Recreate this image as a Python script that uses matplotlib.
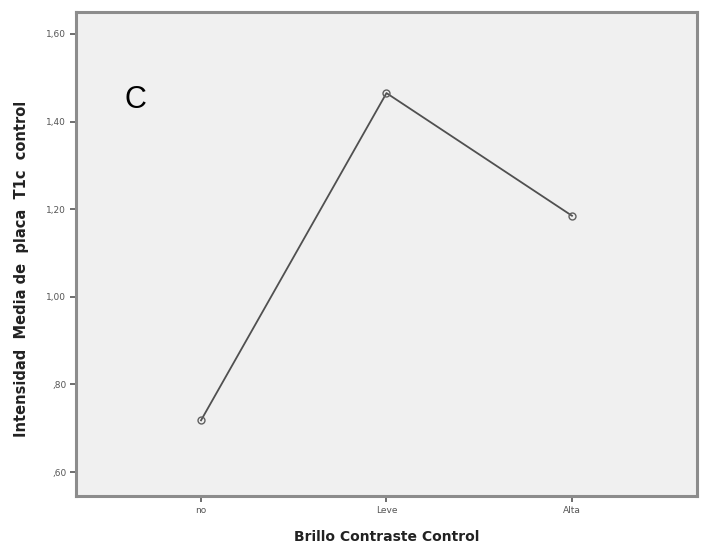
import matplotlib
matplotlib.use("Agg")
import matplotlib.pyplot as plt
from matplotlib.ticker import FuncFormatter

# data
categories = ["no", "Leve", "Alta"]
means = [0.718, 1.465, 1.185]
y_ticks = [0.60, 0.80, 1.00, 1.20, 1.40, 1.60]


def spss_fmt(v, pos):
    s = f"{v:.2f}".replace(".", ",")
    if s.startswith("0"):
        s = s[1:]
    return s


fig = plt.figure(figsize=(7.04, 5.47), dpi=100)
ax = fig.add_axes([0.108, 0.093, 0.882, 0.885])
ax.set_facecolor("#f0f0f0")

x = list(range(len(categories)))
ax.plot(x, means, color="#505050", lw=1.3, marker="o", ms=5,
        mfc="none", mec="#606060", mew=1.0)

ax.set_xlim(-0.674, 2.674)
ax.set_ylim(0.545, 1.65)
ax.set_xticks(x)
ax.set_xticklabels(categories)
ax.set_yticks(y_ticks)
ax.yaxis.set_major_formatter(FuncFormatter(spss_fmt))
ax.tick_params(axis="both", labelsize=6.5, colors="#555555", length=4,
               width=1.2, direction="out", pad=3)

for side in ["top", "right", "bottom", "left"]:
    ax.spines[side].set_color("#8c8c8c")
    ax.spines[side].set_linewidth(2.2)

ax.set_xlabel("Brillo Contraste Control", fontsize=10, fontweight="bold",
              color="#222222", labelpad=11)
ax.set_ylabel("Intensidad  Media de  placa  T1c  control", fontsize=10.5,
              fontweight="bold", color="#222222")
ax.yaxis.set_label_coords(-0.076, 0.47)

ax.text(0.095, 0.818, "C", transform=ax.transAxes, fontsize=22,
        family="Liberation Sans", color="black", va="center", ha="center")

fig.savefig("out.png", dpi=100)
